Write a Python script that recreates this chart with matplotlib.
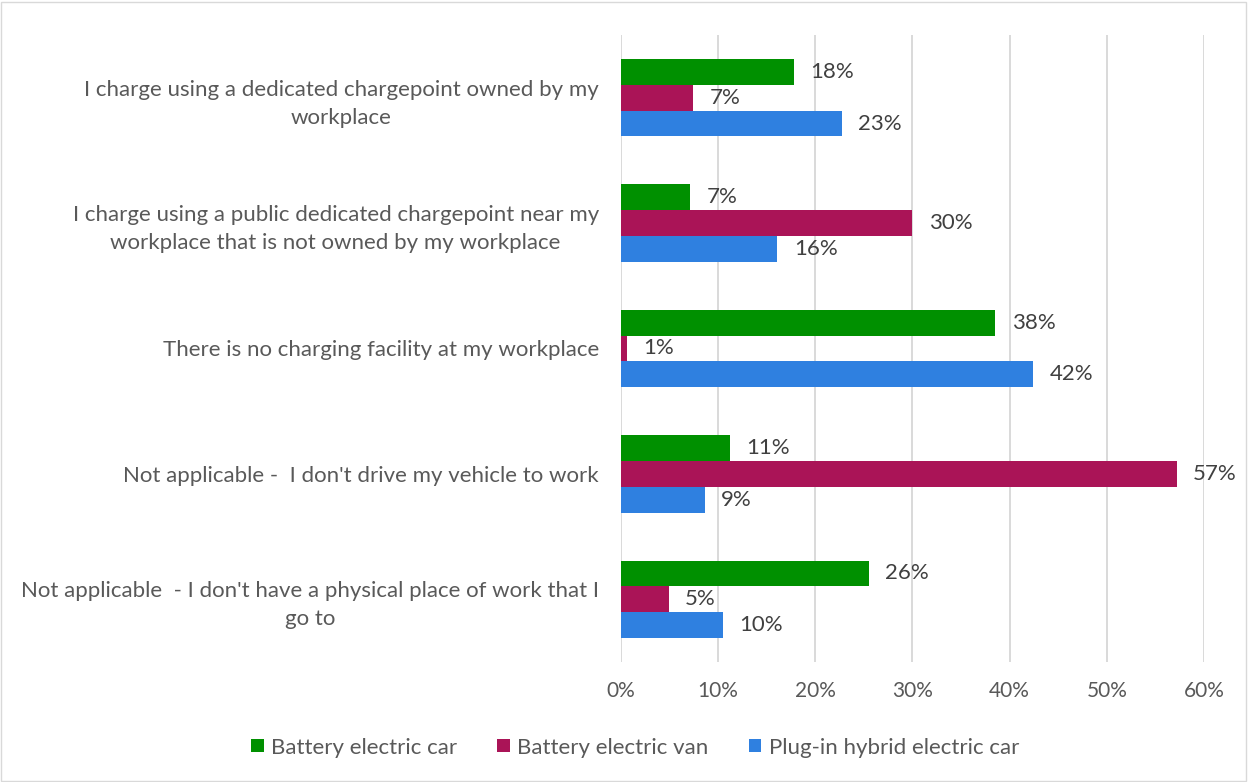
import numpy as np
import matplotlib.pyplot as plt
from matplotlib.patches import Rectangle

categories = [
    "I charge using a dedicated chargepoint owned by my\nworkplace",
    "I charge using a public dedicated chargepoint near my\nworkplace that is not owned by my workplace",
    "There is no charging facility at my workplace",
    "Not applicable -  I don't drive my vehicle to work",
    "Not applicable  - I don't have a physical place of work that I\ngo to",
]
series_names = ["Battery electric car", "Battery electric van", "Plug-in hybrid electric car"]
bev_car = [17.8, 7.1, 38.5, 11.2, 25.5]
bev_van = [7.4, 30.0, 0.6, 57.2, 4.9]
phev_car = [22.7, 16.1, 42.4, 8.6, 10.5]
colors = ["#009000", "#AA1457", "#2F80E0"]
x_ticks = [0, 10, 20, 30, 40, 50, 60]

plt.rcParams["font.family"] = ["Lato", "DejaVu Sans"]

fig = plt.figure(figsize=(12.48, 7.82), dpi=100)
ax = fig.add_axes([0.4976, 0.1535, 0.4671, 0.8017])

y = np.arange(len(categories))
h = 0.206
for i, (vals, col, name) in enumerate(zip([bev_car, bev_van, phev_car], colors, series_names)):
    pos = y + (i - 1) * h
    ax.barh(pos, vals, height=h, color=col, label=name, zorder=3)
    for p, v in zip(pos, vals):
        ax.text(v + 1.7, p, f"{v:.0f}%", va="center", ha="left",
                fontsize=16, color="#404040", zorder=4)

ax.set_xlim(0, 60)
ax.set_ylim(len(categories) - 0.5, -0.5)
ax.set_xticks(x_ticks)
ax.set_xticklabels([f"{t}%" for t in x_ticks])
ax.set_yticks(y)
ax.set_yticklabels(categories, multialignment="center", linespacing=1.5)
ax.tick_params(axis="x", length=0, pad=14, labelsize=15, labelcolor="#595959")
ax.tick_params(axis="y", length=0, pad=16, labelsize=16, labelcolor="#595959")
ax.grid(axis="x", color="#D9D9D9", linewidth=1.4, zorder=0)
for s in ax.spines.values():
    s.set_visible(False)

leg = fig.legend(loc="center", bbox_to_anchor=(0.509, 0.044), ncol=3, frameon=False,
                 fontsize=16, handlelength=0.55, handleheight=0.55,
                 handletextpad=0.35, columnspacing=1.8)
for t in leg.get_texts():
    t.set_color("#595959")

# thin border round the whole chart
fig.patches.append(Rectangle((0.001, 0.001), 0.997, 0.997, transform=fig.transFigure,
                             fill=False, edgecolor="#D9D9D9", linewidth=1))

fig.savefig("out.png", dpi=100)
